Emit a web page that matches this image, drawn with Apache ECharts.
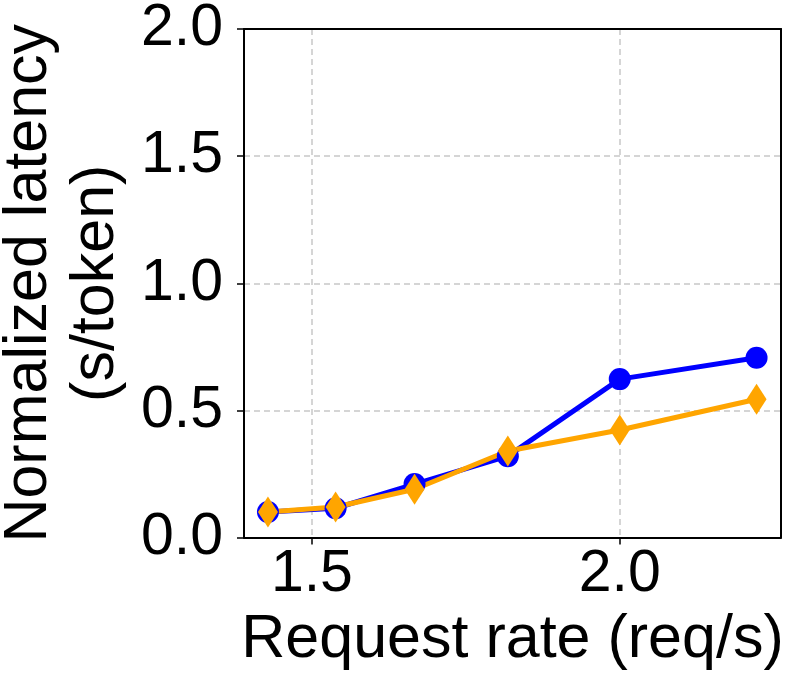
<!DOCTYPE html>
<html>
  <head>
    <meta charset="UTF-8">
    <script src="https://cdn.jsdelivr.net/npm/echarts@6/dist/echarts.min.js"></script>
    <title>Normalized latency</title>
    <style>
      html, body { margin: 0; padding: 0; background: #fff; }
    </style>
  </head>
  <body>
    <div id="main" style="width: 789px;height:686px;"></div>
    <script type="text/javascript">
      // request rate (req/s) for each run
      var requestRates = [1.4286, 1.5385, 1.6667, 1.8182, 2.0, 2.2222];
      // normalized latency (s/token)
      var blueLatency = [0.10, 0.115, 0.21, 0.32, 0.623, 0.707];
      var orangeLatency = [0.10, 0.12, 0.19, 0.34, 0.423, 0.544];
      var xTicks = [1.5, 2.0];

      var xMin = 1.3897, xMax = 2.2619;

      function pairs(xs, ys) {
        return xs.map(function (x, i) { return [x, ys[i]]; });
      }

      var font = '"Liberation Sans", Arial, sans-serif';
      var dashStyle = { color: '#c8c8c8', width: 1.5, type: [6, 4] };
      var frameLine = { show: true, onZero: false, lineStyle: { color: '#000', width: 2 } };

      var myChart = echarts.init(document.getElementById('main'));

      var option = {
        animation: false,
        grid: {
          left: 244, right: 8, top: 29, bottom: 148.5,
          outerBoundsMode: 'none'
        },
        xAxis: [
          {
            type: 'value',
            min: xMin,
            max: xMax,
            name: 'Request rate (req/s)',
            nameLocation: 'middle',
            nameGap: 72,
            nameTextStyle: { fontFamily: font, fontSize: 61, color: '#000' },
            axisLine: frameLine,
            axisTick: { show: true, length: 7, lineStyle: { color: '#000', width: 1.5 }, customValues: xTicks },
            axisLabel: {
              fontFamily: font, fontSize: 59, color: '#000', margin: 8,
              customValues: xTicks,
              formatter: function (v) { return v.toFixed(1); }
            },
            splitLine: { show: true, lineStyle: dashStyle }
          },
          {
            // top edge of the frame
            type: 'value', position: 'top', min: xMin, max: xMax,
            axisLine: frameLine, axisTick: { show: false },
            axisLabel: { show: false }, splitLine: { show: false }
          }
        ],
        yAxis: [
          {
            type: 'value',
            min: 0,
            max: 2,
            interval: 0.5,
            name: 'Normalized latency\n(s/token)',
            nameLocation: 'middle',
            nameRotate: 90,
            nameGap: 114,
            nameTextStyle: { fontFamily: font, fontSize: 61, color: '#000', lineHeight: 67 },
            axisLine: frameLine,
            axisTick: { show: true, length: 7, lineStyle: { color: '#000', width: 1.5 } },
            axisLabel: {
              fontFamily: font, fontSize: 59, color: '#000', margin: 21,
              formatter: function (v) { return v.toFixed(1); }
            },
            splitLine: { show: true, showMinLine: false, showMaxLine: false, lineStyle: dashStyle }
          },
          {
            // right edge of the frame
            type: 'value', position: 'right', min: 0, max: 2,
            axisLine: frameLine, axisTick: { show: false },
            axisLabel: { show: false }, splitLine: { show: false }
          }
        ],
        series: [
          {
            name: 'blue',
            type: 'line',
            data: pairs(requestRates, blueLatency),
            symbol: 'circle',
            symbolSize: 22,
            itemStyle: { color: '#0000ff' },
            lineStyle: { color: '#0000ff', width: 5 }
          },
          {
            name: 'orange',
            type: 'line',
            data: pairs(requestRates, orangeLatency),
            symbol: 'diamond',
            symbolSize: [20, 31],
            itemStyle: { color: '#ffa500' },
            lineStyle: { color: '#ffa500', width: 5 }
          }
        ]
      };

      myChart.setOption(option);
    </script>
  </body>
</html>
